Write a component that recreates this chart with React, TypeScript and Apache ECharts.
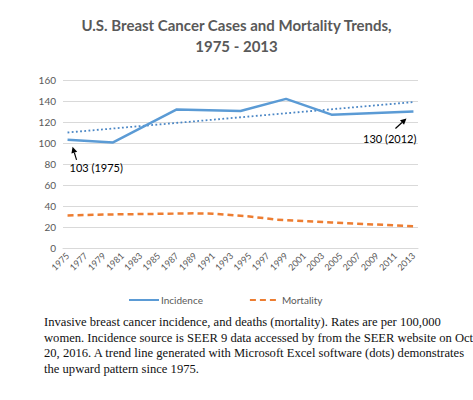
import React, { useEffect, useRef } from 'react';
import * as echarts from 'echarts';

const years = Array.from({ length: 39 }, (_, i) => String(1975 + i));

const incidenceYears = ['1975', '1980', '1987', '1994', '1999', '2004', '2013'];
const incidenceValues = [103, 100.5, 132, 130.5, 142, 127, 130];

const mortalityYears = ['1975', '1980', '1989', '1991', '1995', '1998', '2004', '2013'];
const mortalityValues = [31, 32, 33, 32.7, 30, 27, 24.3, 20.7];

const trendYears = ['1975', '2013'];
const trendValues = [110, 139];

const captionLines = [
  'Invasive breast cancer incidence, and deaths (mortality). Rates are per 100,000',
  'women. Incidence source is SEER 9 data accessed by from the SEER website on Oct',
  '20, 2016. A trend line generated with Microsoft Excel software (dots) demonstrates',
  'the upward pattern since 1975.',
];

const GRAY = '#595959';
const FONT = 'Lato, "Open Sans", sans-serif';

function arrow(tail: number[], tip: number[]) {
  const dx = tip[0] - tail[0];
  const dy = tip[1] - tail[1];
  const len = Math.sqrt(dx * dx + dy * dy);
  const ux = dx / len;
  const uy = dy / len;
  const hl = 6;
  const hw = 3;
  const bx = tip[0] - ux * hl;
  const by = tip[1] - uy * hl;
  return [
    {
      type: 'line',
      shape: { x1: tail[0], y1: tail[1], x2: bx, y2: by },
      style: { stroke: '#000', lineWidth: 1.2 },
    },
    {
      type: 'polygon',
      shape: {
        points: [
          [tip[0], tip[1]],
          [bx - uy * hw, by + ux * hw],
          [bx + uy * hw, by - ux * hw],
        ],
      },
      style: { fill: '#000' },
    },
  ];
}

const App: React.FC = () => {
  const chartRef = useRef<HTMLDivElement>(null);

  useEffect(() => {
    if (!chartRef.current) return;
    const chart = echarts.init(chartRef.current, undefined, { renderer: 'svg' });

    const option: echarts.EChartsOption = {
      animation: false,
      backgroundColor: '#fff',
      title: {
        text: 'U.S. Breast Cancer Cases and Mortality Trends,\n1975 - 2013',
        left: 'center',
        top: 9,
        textStyle: {
          color: GRAY,
          fontSize: 15,
          fontWeight: 'bold',
          fontFamily: FONT,
          lineHeight: 21,
        },
      },
      grid: { left: 63, right: 55, top: 80, bottom: 152, containLabel: false },
      legend: {
        data: ['Incidence', 'Mortality'],
        left: 123,
        top: 290,
        itemWidth: 30,
        itemHeight: 10,
        itemGap: 46,
        itemStyle: { color: 'transparent', borderColor: 'transparent', borderWidth: 0 },
        textStyle: { color: GRAY, fontSize: 10, fontFamily: FONT, padding: [0, 0, 0, -3] },
      },
      xAxis: {
        type: 'category',
        data: years,
        boundaryGap: true,
        axisLine: { lineStyle: { color: '#d9d9d9' } },
        axisTick: { show: false },
        axisLabel: {
          interval: 1,
          rotate: 45,
          color: GRAY,
          fontSize: 9,
          fontFamily: FONT,
          margin: 6,
        },
      },
      yAxis: {
        type: 'value',
        min: 0,
        max: 160,
        interval: 20,
        axisLine: { show: false },
        axisTick: { show: false },
        axisLabel: { color: GRAY, fontSize: 10, fontFamily: FONT, margin: 7 },
        splitLine: { lineStyle: { color: '#d9d9d9', width: 1 } },
      },
      series: [
        {
          name: 'Incidence',
          type: 'line',
          symbol: 'none',
          data: incidenceYears.map((y, i) => [y, incidenceValues[i]]),
          lineStyle: { color: '#5b9bd5', width: 2.5 },
          itemStyle: { color: '#5b9bd5' },
          z: 3,
        },
        {
          name: 'Mortality',
          type: 'line',
          symbol: 'none',
          data: mortalityYears.map((y, i) => [y, mortalityValues[i]]),
          lineStyle: { color: '#ed7d31', width: 2.5, type: [6, 4] },
          itemStyle: { color: '#ed7d31' },
        },
        {
          name: 'Trend',
          type: 'line',
          symbol: 'none',
          data: trendYears.map((y, i) => [y, trendValues[i]]),
          lineStyle: { color: '#4a86c5', width: 1.8, type: [1.8, 2.4] },
          itemStyle: { color: '#4a86c5' },
          z: 2,
        },
      ],
    };

    chart.setOption(option);

    const p1 = chart.convertToPixel({ xAxisIndex: 0, yAxisIndex: 0 }, [incidenceYears[0], incidenceValues[0]]) as number[];
    const last = incidenceYears.length - 1;
    const p2 = chart.convertToPixel({ xAxisIndex: 0, yAxisIndex: 0 }, [incidenceYears[last], incidenceValues[last]]) as number[];

    const graphics: any[] = [
      ...arrow([p1[0] + 9, p1[1] + 20], [p1[0] + 5, p1[1] + 7]),
      {
        type: 'text',
        x: p1[0] + 2,
        y: p1[1] + 28,
        style: {
          text: '103 (1975)',
          fill: '#000',
          font: '11px ' + FONT,
          textVerticalAlign: 'middle',
        },
      },
      ...arrow([p2[0] - 18, p2[1] + 17], [p2[0] - 7, p2[1] + 7]),
      {
        type: 'text',
        x: p2[0] + 3,
        y: p2[1] + 27,
        style: {
          text: '130 (2012)',
          fill: '#000',
          font: '11px ' + FONT,
          textAlign: 'right',
          textVerticalAlign: 'middle',
        },
      },
      ...captionLines.map((line, i) => ({
        type: 'text',
        x: 44,
        y: 322 + i * 15.7,
        style: {
          text: line,
          fill: '#111',
          font: '12.6px "Liberation Serif", "Times New Roman", serif',
          textVerticalAlign: 'middle',
        },
      })),
    ];

    chart.setOption({ graphic: graphics });

    return () => {
      chart.dispose();
    };
  }, []);

  return (
    <div
      ref={chartRef}
      style={{ position: 'fixed', left: 0, top: 0, width: '473px', height: '400px' }}
    />
  );
};

export default App;
